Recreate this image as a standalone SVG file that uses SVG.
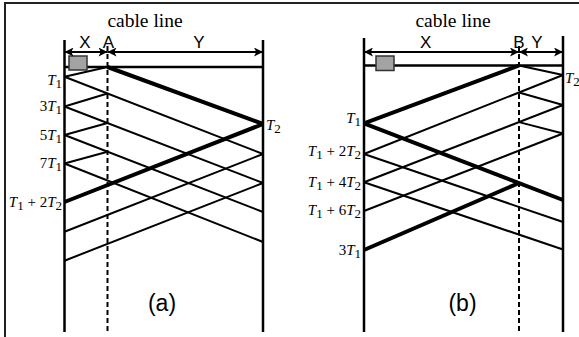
<svg xmlns="http://www.w3.org/2000/svg" width="579" height="337" viewBox="0 0 579 337">
<style>
.v{stroke:#000;stroke-width:2.5;fill:none}
.d{stroke:#000;stroke-width:2;stroke-dasharray:5,3;fill:none}
.t{stroke:#000;stroke-width:2;fill:none}
.k{stroke:#000;stroke-width:4;fill:none}
.h{stroke:#000;stroke-width:2.5;fill:none}
.dim{stroke:#000;stroke-width:2;fill:none;marker-start:url(#ah);marker-end:url(#ah)}
.box{fill:#a3a3a3;stroke:#333;stroke-width:1.5}
.sans{font-family:"Liberation Sans",Arial,sans-serif;font-size:17px;text-anchor:middle}
.cap{font-family:"Liberation Serif","Times New Roman",serif;font-size:19.5px;text-anchor:middle}
.lab{font-family:"Liberation Serif","Times New Roman",serif;font-size:15px}
.it{font-style:italic}
.sub{font-size:13px}
.pl{font-family:"Liberation Sans",Arial,sans-serif;font-size:23px;text-anchor:middle}
</style>
<defs>
<marker id="ah" viewBox="0 0 10 10" refX="10" refY="5" markerWidth="10" markerHeight="9" markerUnits="userSpaceOnUse" orient="auto-start-reverse">
<path d="M0,0 L10,5 L0,10 L2.5,5 Z" fill="#000"/>
</marker>
</defs>
<rect width="579" height="337" fill="#fff"/>
<path d="M5,337 V3 H579" stroke="#222" stroke-width="2" fill="none"/>

<g id="panel-a">
<g id="a-frame">
<line class="v" x1="64.5" y1="40" x2="64.5" y2="332"/>
<line class="v" x1="263" y1="40" x2="263" y2="332"/>
<line class="d" x1="107.5" y1="46" x2="107.5" y2="332"/>
<line class="h" x1="64.5" y1="67" x2="263" y2="67"/>
<rect class="box" x="69" y="56" width="18" height="14"/>
<line class="dim" x1="64.5" y1="52" x2="107.5" y2="52"/>
<line class="dim" x1="107.5" y1="52" x2="263" y2="52"/>
<text class="cap" x="145" y="26.5">cable line</text>
<text class="sans" x="85" y="48">X</text>
<text class="sans" x="108.5" y="48">A</text>
<text class="sans" x="199" y="48">Y</text>
</g>
<g id="a-waves">
<line class="k" x1="107.5" y1="67" x2="263" y2="124"/>
<line class="k" x1="263" y1="124" x2="64.5" y2="202"/>
<line class="t" x1="64.5" y1="76.7" x2="263" y2="154"/>
<line class="t" x1="64.5" y1="106.5" x2="263" y2="183"/>
<line class="t" x1="64.5" y1="135" x2="263" y2="212"/>
<line class="t" x1="64.5" y1="163.5" x2="263" y2="242"/>
<line class="t" x1="64.5" y1="231.7" x2="263" y2="154"/>
<line class="t" x1="64.5" y1="260.7" x2="263" y2="183"/>
<line class="t" x1="64.5" y1="76.7" x2="107.5" y2="67"/>
<line class="t" x1="64.5" y1="106.5" x2="107.5" y2="93.5"/>
<line class="t" x1="64.5" y1="135" x2="107.5" y2="123"/>
<line class="t" x1="64.5" y1="163.5" x2="107.5" y2="151.7"/>
</g>
<g id="a-labels" class="lab">
<text x="62" y="85" text-anchor="end"><tspan class="it">T</tspan><tspan class="sub" dy="3">1</tspan></text>
<text x="62" y="111" text-anchor="end">3<tspan class="it">T</tspan><tspan class="sub" dy="3">1</tspan></text>
<text x="62" y="140" text-anchor="end">5<tspan class="it">T</tspan><tspan class="sub" dy="3">1</tspan></text>
<text x="62" y="168" text-anchor="end">7<tspan class="it">T</tspan><tspan class="sub" dy="3">1</tspan></text>
<text x="62" y="207" text-anchor="end"><tspan class="it">T</tspan><tspan class="sub" dy="3">1</tspan><tspan dy="-3"> + 2</tspan><tspan class="it">T</tspan><tspan class="sub" dy="3">2</tspan></text>
<text x="266" y="130"><tspan class="it">T</tspan><tspan class="sub" dy="3">2</tspan></text>
</g>
<text class="pl" x="162" y="311">(a)</text>
</g>

<g id="panel-b">
<g id="b-frame">
<line class="v" x1="364" y1="38" x2="364" y2="332"/>
<line class="v" x1="563" y1="36" x2="563" y2="332"/>
<line class="d" x1="519" y1="46" x2="519" y2="332"/>
<line class="h" x1="364" y1="65.5" x2="563" y2="65.5"/>
<rect class="box" x="376" y="56" width="18" height="14.5"/>
<line class="dim" x1="364" y1="52" x2="519" y2="52"/>
<line class="dim" x1="519" y1="52" x2="563" y2="52"/>
<text class="cap" x="453" y="26.5">cable line</text>
<text class="sans" x="425.7" y="48">X</text>
<text class="sans" x="519" y="48">B</text>
<text class="sans" x="537" y="48">Y</text>
</g>
<g id="b-waves">
<line class="k" x1="364" y1="123.3" x2="519" y2="65.5"/>
<line class="k" x1="364" y1="123.3" x2="563" y2="200"/>
<line class="k" x1="364" y1="250" x2="519" y2="183"/>
<line class="t" x1="563" y1="75" x2="364" y2="154"/>
<line class="t" x1="563" y1="105" x2="364" y2="182.3"/>
<line class="t" x1="563" y1="133.5" x2="364" y2="211"/>
<line class="t" x1="364" y1="154" x2="563" y2="222"/>
<line class="t" x1="364" y1="182.3" x2="563" y2="249.5"/>
<line class="t" x1="519" y1="65.5" x2="563" y2="75"/>
<line class="t" x1="519" y1="92.5" x2="563" y2="105"/>
<line class="t" x1="519" y1="122.1" x2="563" y2="133.5"/>
</g>
<g id="b-labels" class="lab">
<text x="361" y="123" text-anchor="end"><tspan class="it">T</tspan><tspan class="sub" dy="3">1</tspan></text>
<text x="361" y="156" text-anchor="end"><tspan class="it">T</tspan><tspan class="sub" dy="3">1</tspan><tspan dy="-3"> + 2</tspan><tspan class="it">T</tspan><tspan class="sub" dy="3">2</tspan></text>
<text x="361" y="187" text-anchor="end"><tspan class="it">T</tspan><tspan class="sub" dy="3">1</tspan><tspan dy="-3"> + 4</tspan><tspan class="it">T</tspan><tspan class="sub" dy="3">2</tspan></text>
<text x="361" y="215" text-anchor="end"><tspan class="it">T</tspan><tspan class="sub" dy="3">1</tspan><tspan dy="-3"> + 6</tspan><tspan class="it">T</tspan><tspan class="sub" dy="3">2</tspan></text>
<text x="361" y="255" text-anchor="end">3<tspan class="it">T</tspan><tspan class="sub" dy="3">1</tspan></text>
<text x="565" y="83"><tspan class="it">T</tspan><tspan class="sub" dy="3">2</tspan></text>
</g>
<text class="pl" x="462.5" y="311">(b)</text>
</g>
</svg>
